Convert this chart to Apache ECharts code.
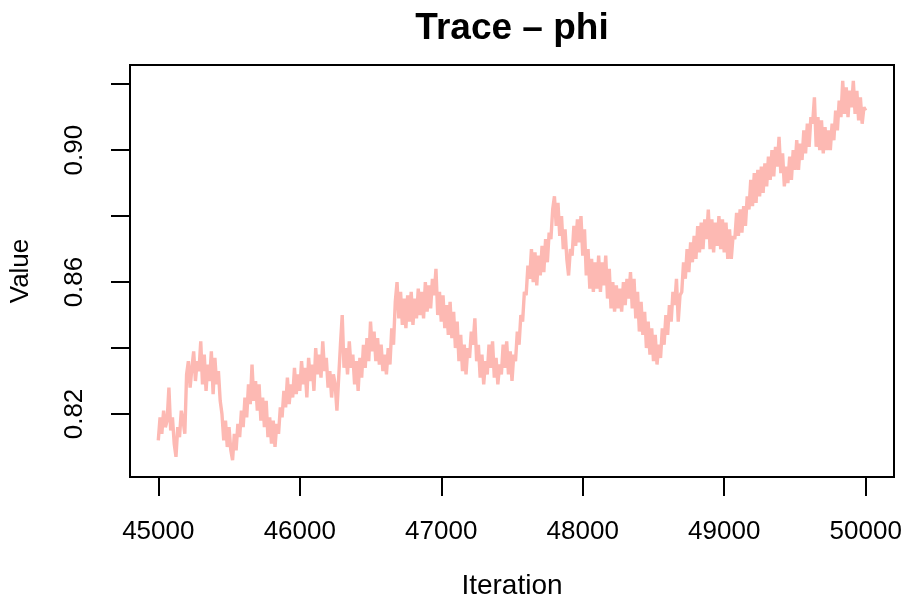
<!DOCTYPE html>
<html>
<head>
<meta charset="utf-8">
<script src="https://cdn.jsdelivr.net/npm/echarts@6/dist/echarts.min.js"></script>
<style>html,body{margin:0;padding:0;background:#fff}#c{width:909px;height:597px}</style>
</head>
<body>
<div id="c"></div>
<script>
// MCMC trace of phi (one value per 12.5 iterations)
const startIteration = 45000;
const stepIteration = 12.5;
const phiValues = [
  // 45000 - 45237.5
  0.812, 0.819, 0.814, 0.821, 0.816, 0.818, 0.828, 0.815, 0.819, 0.811, 0.807, 0.816, 0.813, 0.821, 0.818, 0.814, 0.832, 0.836, 0.828, 0.834,
  // 45250 - 45487.5
  0.839, 0.830, 0.836, 0.833, 0.842, 0.829, 0.838, 0.827, 0.835, 0.830, 0.839, 0.826, 0.837, 0.829, 0.833, 0.824, 0.820, 0.812, 0.818, 0.810,
  // 45500 - 45737.5
  0.816, 0.809, 0.806, 0.814, 0.809, 0.817, 0.813, 0.821, 0.816, 0.825, 0.819, 0.829, 0.823, 0.835, 0.824, 0.830, 0.821, 0.829, 0.818, 0.825,
  // 45750 - 45987.5
  0.816, 0.824, 0.813, 0.819, 0.811, 0.818, 0.810, 0.817, 0.814, 0.822, 0.819, 0.827, 0.822, 0.831, 0.823, 0.829, 0.825, 0.834, 0.826, 0.832,
  // 46000 - 46237.5
  0.827, 0.836, 0.829, 0.834, 0.825, 0.837, 0.830, 0.835, 0.827, 0.840, 0.832, 0.838, 0.831, 0.842, 0.833, 0.837, 0.828, 0.833, 0.825, 0.832,
  // 46250 - 46487.5
  0.829, 0.821, 0.831, 0.841, 0.850, 0.834, 0.840, 0.832, 0.842, 0.834, 0.838, 0.829, 0.836, 0.827, 0.837, 0.831, 0.841, 0.834, 0.843, 0.836,
  // 46500 - 46737.5
  0.848, 0.839, 0.845, 0.836, 0.843, 0.835, 0.841, 0.833, 0.838, 0.832, 0.840, 0.835, 0.846, 0.841, 0.854, 0.860, 0.849, 0.857, 0.847, 0.855,
  // 46750 - 46987.5
  0.846, 0.856, 0.848, 0.857, 0.847, 0.855, 0.849, 0.858, 0.850, 0.857, 0.849, 0.860, 0.851, 0.859, 0.852, 0.861, 0.856, 0.864, 0.850, 0.857,
  // 47000 - 47237.5
  0.848, 0.856, 0.846, 0.853, 0.844, 0.854, 0.843, 0.851, 0.840, 0.848, 0.836, 0.844, 0.833, 0.841, 0.832, 0.840, 0.837, 0.845, 0.841, 0.849,
  // 47250 - 47487.5
  0.836, 0.841, 0.831, 0.838, 0.829, 0.836, 0.832, 0.841, 0.834, 0.842, 0.831, 0.837, 0.829, 0.835, 0.832, 0.841, 0.834, 0.842, 0.832, 0.839,
  // 47500 - 47737.5
  0.830, 0.838, 0.836, 0.845, 0.841, 0.850, 0.848, 0.857, 0.856, 0.865, 0.861, 0.870, 0.860, 0.869, 0.859, 0.868, 0.862, 0.871, 0.863, 0.873,
  // 47750 - 47987.5
  0.866, 0.875, 0.873, 0.882, 0.886, 0.877, 0.884, 0.874, 0.880, 0.870, 0.876, 0.867, 0.862, 0.870, 0.868, 0.877, 0.871, 0.879, 0.872, 0.880,
  // 48000 - 48237.5
  0.868, 0.876, 0.862, 0.870, 0.858, 0.867, 0.857, 0.866, 0.858, 0.868, 0.857, 0.866, 0.859, 0.868, 0.855, 0.864, 0.852, 0.860, 0.851, 0.859,
  // 48250 - 48487.5
  0.852, 0.858, 0.851, 0.860, 0.853, 0.861, 0.855, 0.863, 0.852, 0.861, 0.849, 0.857, 0.845, 0.854, 0.844, 0.851, 0.840, 0.848, 0.838, 0.846,
  // 48500 - 48737.5
  0.836, 0.844, 0.835, 0.841, 0.837, 0.846, 0.841, 0.850, 0.844, 0.853, 0.848, 0.857, 0.853, 0.861, 0.848, 0.856, 0.857, 0.866, 0.861, 0.870,
  // 48750 - 48987.5
  0.863, 0.872, 0.866, 0.874, 0.867, 0.877, 0.869, 0.878, 0.870, 0.879, 0.873, 0.882, 0.870, 0.879, 0.869, 0.878, 0.871, 0.880, 0.870, 0.879,
  // 49000 - 49237.5
  0.869, 0.878, 0.867, 0.876, 0.867, 0.874, 0.873, 0.881, 0.874, 0.882, 0.875, 0.883, 0.877, 0.886, 0.882, 0.891, 0.883, 0.893, 0.884, 0.894,
  // 49250 - 49487.5
  0.886, 0.895, 0.887, 0.896, 0.889, 0.898, 0.891, 0.900, 0.892, 0.901, 0.895, 0.904, 0.893, 0.899, 0.889, 0.895, 0.890, 0.898, 0.891, 0.900,
  // 49500 - 49737.5
  0.894, 0.903, 0.894, 0.902, 0.897, 0.906, 0.899, 0.908, 0.901, 0.910, 0.908, 0.916, 0.901, 0.910, 0.900, 0.909, 0.899, 0.907, 0.900, 0.906,
  // 49750 - 49987.5
  0.900, 0.908, 0.903, 0.912, 0.906, 0.915, 0.910, 0.921, 0.911, 0.919, 0.910, 0.918, 0.913, 0.921, 0.911, 0.918, 0.909, 0.916, 0.908, 0.913,
  // 50000
  0.912
];
const xTickValues = [45000, 46000, 47000, 48000, 49000, 50000];
const yTickValues = [0.82, 0.84, 0.86, 0.88, 0.90, 0.92];
const yLabelValues = [0.82, 0.86, 0.90];
const titleText = 'Trace \u2013 phi';
const xName = 'Iteration';
const yName = 'Value';

const seriesData = phiValues.map((v, i) => [startIteration + i * stepIteration, v]);
const font = "'Liberation Sans', Arial, Helvetica, sans-serif";

const chart = echarts.init(document.getElementById('c'), null, {renderer: 'canvas'});
chart.setOption({
  animation: false,
  backgroundColor: '#ffffff',
  graphic: [{
    type: 'text', x: 512, y: 29,
    style: {text: titleText, align: 'center', verticalAlign: 'middle', font: 'bold 37px ' + font, fill: '#000'}
  }],
  grid: {left: 130, right: 15, top: 65, bottom: 120, show: true, borderColor: '#000', borderWidth: 2, outerBoundsMode: 'none', containLabel: false},
  xAxis: {
    type: 'value', min: 44800, max: 50200,
    name: xName, nameLocation: 'middle', nameGap: 95,
    nameTextStyle: {fontFamily: font, fontSize: 28, color: '#000'},
    axisLine: {show: false},
    splitLine: {show: false},
    axisTick: {show: true, customValues: xTickValues, length: 19, inside: false, lineStyle: {color: '#000', width: 2}},
    axisLabel: {customValues: xTickValues, margin: 42, fontFamily: font, fontSize: 26, color: '#000', formatter: v => String(v)}
  },
  yAxis: {
    type: 'value', min: 0.8009, max: 0.9258,
    name: yName, nameLocation: 'middle', nameGap: 96,
    nameTextStyle: {fontFamily: font, fontSize: 26, color: '#000'},
    axisLine: {show: false},
    splitLine: {show: false},
    axisTick: {show: true, customValues: yTickValues, length: 19, inside: false, lineStyle: {color: '#000', width: 2}},
    axisLabel: {customValues: yLabelValues, rotate: 90, margin: 42, fontFamily: font, fontSize: 26, color: '#000', formatter: v => v.toFixed(2)}
  },
  series: [{
    type: 'line', data: seriesData, showSymbol: false, symbol: 'none',
    lineStyle: {color: '#FDB9B3', width: 3.4}, clip: true
  }]
});
</script>
</body>
</html>
